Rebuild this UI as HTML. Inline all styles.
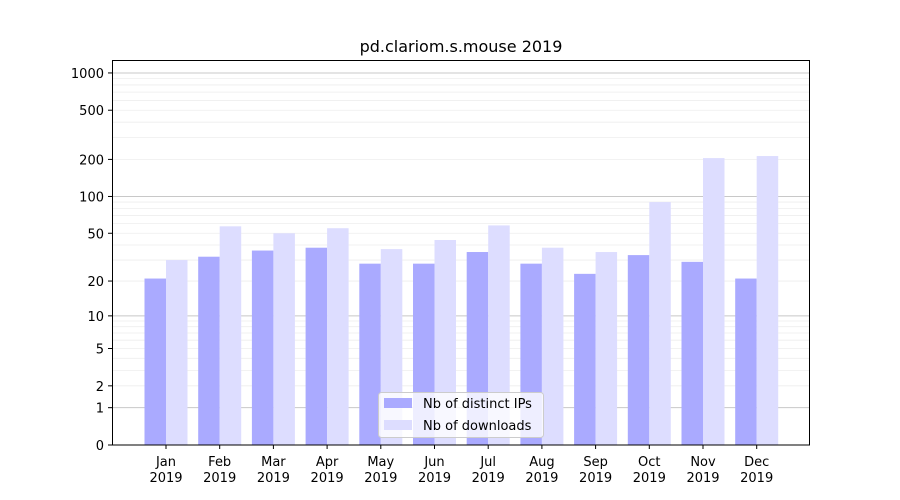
<!DOCTYPE html>
<html><head><meta charset="utf-8"><style>body{margin:0;background:#fff}svg{display:block}text{font-family:"DejaVu Sans","Liberation Sans",sans-serif;font-size:13px;fill:#000}</style></head>
<body>
<svg width="900" height="500" viewBox="0 0 900 500" xmlns="http://www.w3.org/2000/svg">
<rect width="900" height="500" fill="#fff"/>
<g id="grid"></g>
<g id="bars"></g>
<rect x="112.5" y="60.5" width="697" height="384.5" fill="none" stroke="#000" stroke-width="1"/>
<g id="ticks"></g>
<text x="461" y="52" text-anchor="middle" style="font-size:16px">pd.clariom.s.mouse 2019</text>
<rect x="378.5" y="392.5" width="165" height="45" rx="3" fill="#fff" fill-opacity="0.8" stroke="#ccc"/>
<rect x="384" y="398" width="28" height="10" fill="#aaaaff"/>
<text x="423" y="408">Nb of distinct IPs</text>
<rect x="384" y="420" width="28" height="10" fill="#ddddff"/>
<text x="423" y="430">Nb of downloads</text>
<script>
const ns="http://www.w3.org/2000/svg";
function Y(v){return 445-124*Math.log10(v+1);}
function el(p,t,a,txt){const e=document.createElementNS(ns,t);for(const k in a)e.setAttribute(k,a[k]);if(txt!==undefined)e.textContent=txt;document.getElementById(p).appendChild(e);}
for(let d of [1,10,100]){for(let m=1;m<10;m++){const v=d*m;const y=Y(v);el('grid','line',{x1:112,x2:810,y1:y,y2:y,stroke:m==1?'#c8c8c8':'#eeeeee','stroke-width':m==1?1:0.8});}}
el('grid','line',{x1:112,x2:810,y1:Y(1000),y2:Y(1000),stroke:'#c8c8c8'});
const d=[21,32,36,38,28,28,35,28,23,33,29,21],l=[30,57,50,55,37,44,58,38,35,90,205,213];
const mon=["Jan","Feb","Mar","Apr","May","Jun","Jul","Aug","Sep","Oct","Nov","Dec"];
for(let i=0;i<12;i++){const c=166+i*53.7;
el('bars','rect',{x:c-21.5,y:Y(d[i]),width:21.5,height:445-Y(d[i]),fill:'#aaaaff'});
el('bars','rect',{x:c,y:Y(l[i]),width:21.5,height:445-Y(l[i]),fill:'#ddddff'});
el('ticks','line',{x1:c,x2:c,y1:445,y2:449,stroke:'#000'});
el('ticks','text',{x:c,y:466,'text-anchor':'middle'},mon[i]);
el('ticks','text',{x:c,y:482,'text-anchor':'middle'},"2019");}
for(const v of [0,1,2,5,10,20,50,100,200,500,1000]){const y=Y(v);
el('ticks','line',{x1:108,x2:112,y1:y,y2:y,stroke:'#000'});
el('ticks','text',{x:104,y:y+5,'text-anchor':'end'},String(v));}
</script>
</svg>
</body></html>
